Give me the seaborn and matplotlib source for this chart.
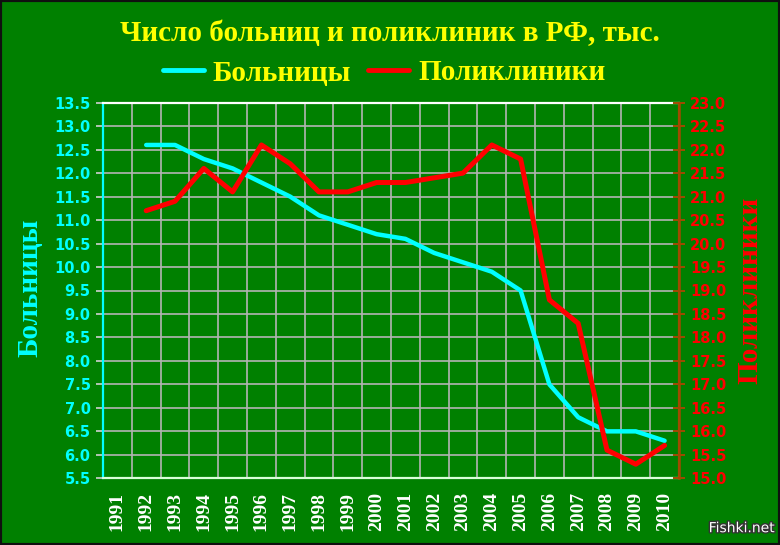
import matplotlib
matplotlib.use("Agg")
import matplotlib.pyplot as plt
import matplotlib.patheffects as pe
from matplotlib.lines import Line2D
from matplotlib.patches import Rectangle
import seaborn as sns
import numpy as np

# ---- data ----
years = list(range(1992, 2011))
hospitals = [12.6, 12.6, 12.3, 12.1, 11.8, 11.5, 11.1, 10.9, 10.7, 10.6,
             10.3, 10.1, 9.9, 9.5, 7.5, 6.8, 6.5, 6.5, 6.3]
clinics = [20.7, 20.9, 21.6, 21.1, 22.1, 21.7, 21.1, 21.1, 21.3, 21.3,
           21.4, 21.5, 22.1, 21.8, 18.8, 18.3, 15.6, 15.3, 15.7]
tick_years = list(range(1991, 2011))
left_ticks = [5.5, 6.0, 6.5, 7.0, 7.5, 8.0, 8.5, 9.0, 9.5, 10.0, 10.5, 11.0,
              11.5, 12.0, 12.5, 13.0, 13.5]
right_ticks = [15.0, 15.5, 16.0, 16.5, 17.0, 17.5, 18.0, 18.5, 19.0, 19.5,
               20.0, 20.5, 21.0, 21.5, 22.0, 22.5, 23.0]
title = "Число больниц и поликлиник в РФ, тыс."
name_h = "Больницы"
name_c = "Поликлиники"

GREEN = "#008000"
CYAN = "#00ffff"
RED = "#ff0000"
YELLOW = "#ffff00"
BROWN = "#a04a00"
GRID = "#b4b4b4"

sns.set_theme(style="white", rc={"axes.facecolor": GREEN, "figure.facecolor": GREEN})
plt.rcParams["font.family"] = ["DejaVu Sans"]
SERIF = ["Liberation Serif", "DejaVu Serif"]

fig = plt.figure(figsize=(7.8, 5.45), dpi=100, facecolor=GREEN)
ax = fig.add_axes([103 / 780, 1 - 478.3 / 545, (679 - 103) / 780, (478.3 - 102.7) / 545])
ax.set_facecolor(GREEN)

sns.lineplot(x=years, y=hospitals, ax=ax, color=CYAN, lw=3.2, legend=False)
ax.set_xlim(1990.5, 2010.5)
ax.set_ylim(5.5, 13.5)

# x axis: labels at category centres, grid between
ax.set_xticks(tick_years)
ax.set_xticklabels([str(y) for y in tick_years], rotation=90, color="white",
                   fontsize=14, fontweight="bold", family=SERIF)
ax.set_xticks([y + 0.5 for y in [1990] + tick_years], minor=True)
ax.tick_params(axis="x", which="major", length=0, pad=10)
ax.tick_params(axis="x", which="minor", length=5, width=1.2, color="#d8ffd8", direction="out")
ax.grid(True, axis="x", which="minor", color=GRID, lw=1.2)
ax.grid(False, axis="x", which="major")

ax.set_yticks(left_ticks)
ax.set_yticklabels([f"{v:.1f}" for v in left_ticks], color=CYAN, fontsize=10.5, fontweight="bold")
ax.tick_params(axis="y", which="major", length=5, width=1.2, color="#d0d0d0", direction="out", pad=4,
               left=True)
ax.grid(True, axis="y", which="major", color=GRID, lw=1.2)

for s, c in [("left", CYAN), ("bottom", "#d8ffd8"), ("top", "white"), ("right", BROWN)]:
    ax.spines[s].set_visible(True)
    ax.spines[s].set_color(c)
    ax.spines[s].set_linewidth(1.6)

ax2 = ax.twinx()
sns.lineplot(x=years, y=clinics, ax=ax2, color=RED, lw=3.6, legend=False)
ax2.set_ylim(15, 23)
ax2.set_yticks(right_ticks)
ax2.set_yticklabels([f"{v:.1f}" for v in right_ticks], color=RED, fontsize=10.5, fontweight="bold")
ax2.tick_params(axis="y", length=8, width=1.4, color=BROWN, direction="inout", pad=4, right=True)
ax2.grid(False)
for s in ["left", "bottom", "top"]:
    ax2.spines[s].set_visible(False)
ax2.spines["right"].set_visible(True)
ax2.spines["right"].set_color(BROWN)
ax2.spines["right"].set_linewidth(1.8)
ax2.set_ylabel("")
ax.set_ylabel("")

# titles & axis names
fig.text(390 / 780, 1 - 33 / 545, title, ha="center", va="center", color=YELLOW,
         fontsize=21, fontweight="bold", family=SERIF)
fig.text(30 / 780, 1 - 288 / 545, name_h, ha="center", va="center", rotation=90,
         color=CYAN, fontsize=21, fontweight="bold", family=SERIF)
fig.text(750 / 780, 1 - 290 / 545, name_c, ha="center", va="center", rotation=90,
         color=RED, fontsize=21, fontweight="bold", family=SERIF)

handles = [Line2D([], [], color=CYAN, lw=3.5), Line2D([], [], color=RED, lw=3.5)]
leg = fig.legend(handles, [name_h, name_c], loc="center", bbox_to_anchor=(384 / 780, 1 - 73 / 545),
                 ncol=2, frameon=False, handlelength=1.4, handletextpad=0.3, columnspacing=0.6,
                 prop={"family": SERIF, "weight": "bold", "size": 21})
for t in leg.get_texts():
    t.set_color(YELLOW)

fig.text(0.993, 0.018, "Fishki.net", ha="right", va="bottom", color="white", fontsize=10,
         path_effects=[pe.withStroke(linewidth=2, foreground="#333333")])

fig.patches.append(Rectangle((0, 0), 1, 1, transform=fig.transFigure, fill=False,
                             ec="#101010", lw=3))

fig.savefig("out.png", dpi=100, facecolor=GREEN)
